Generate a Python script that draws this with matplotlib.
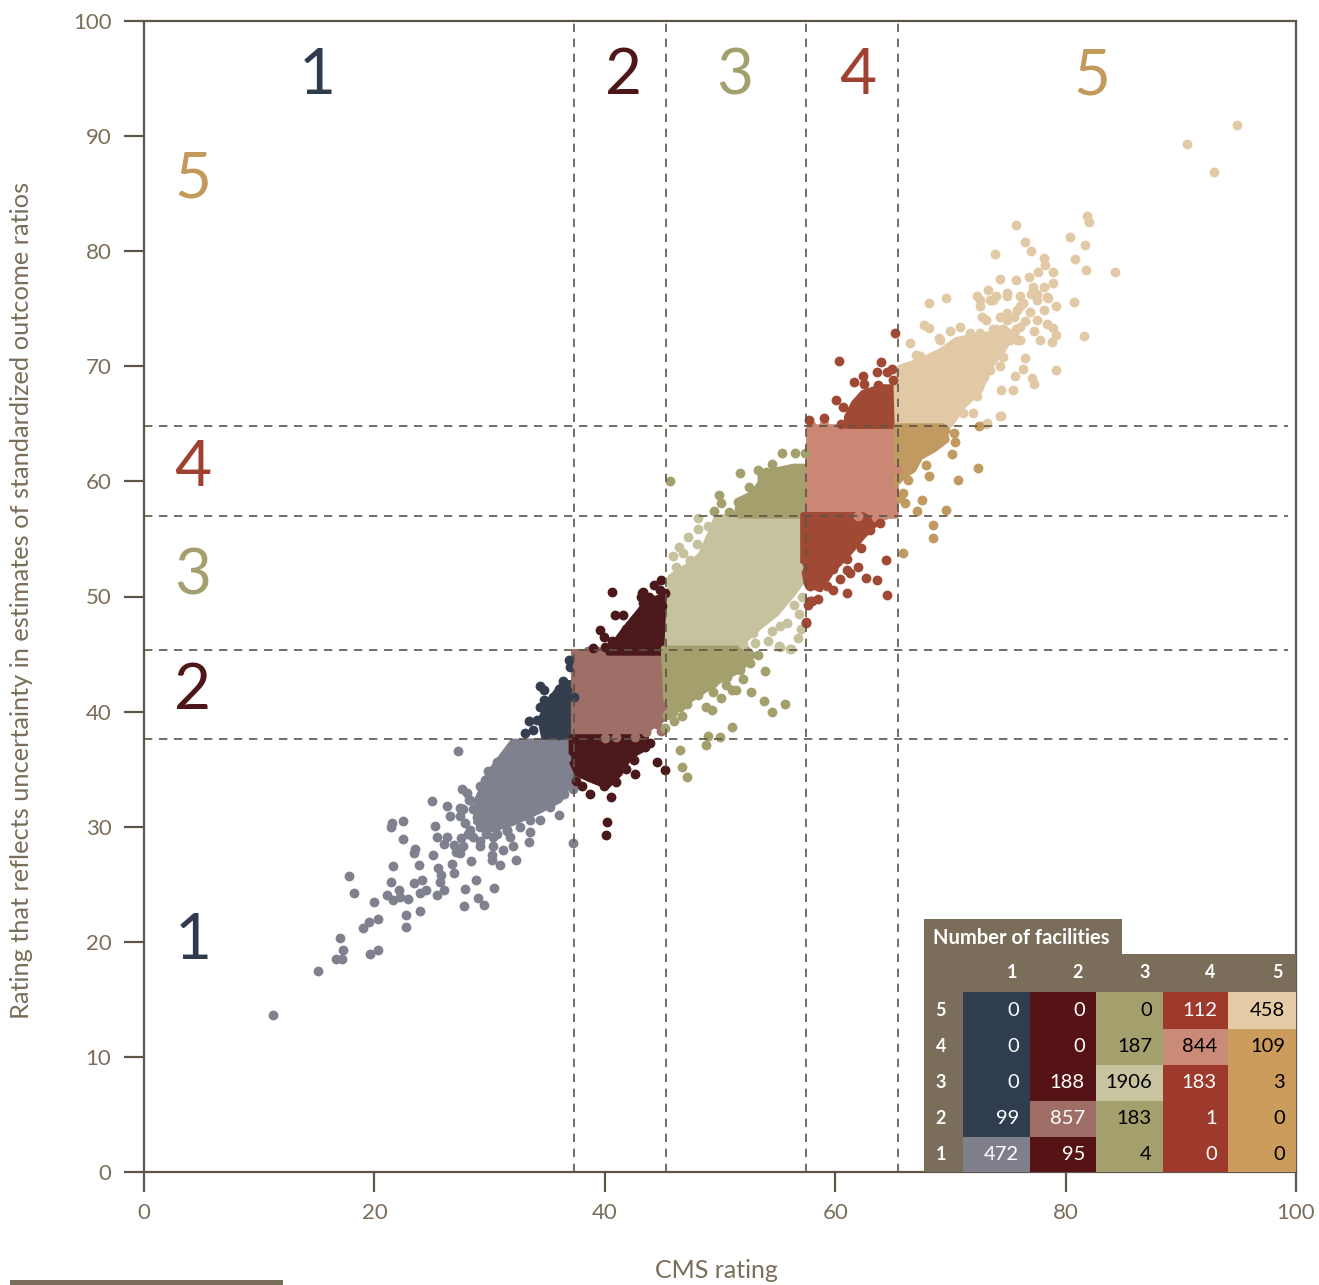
import matplotlib
matplotlib.use("Agg")
import matplotlib.pyplot as plt
from matplotlib.patches import Rectangle

plt.rcParams['font.family'] = ['Lato', 'DejaVu Sans']

# ---------------- data ----------------
x_cuts = [37.3, 45.3, 57.5, 65.45]
y_cuts = [37.6, 45.35, 57.0, 64.8]

x_ticks = [0, 20, 40, 60, 80, 100]
y_ticks = [0, 10, 20, 30, 40, 50, 60, 70, 80, 90, 100]

top_labels = ['1', '2', '3', '4', '5']
top_label_x = [15.0, 41.6, 51.3, 62.0, 82.3]
left_labels = ['5', '4', '3', '2', '1']
left_label_y = [86.2, 61.2, 51.7, 41.8, 20.1]

# scatter points (CMS rating, uncertainty rating)
gray_x = [11.2, 15.1, 16.7, 17.2, 17.3, 17.0, 19.6, 20.3, 19.0, 19.5, 20.3, 17.8, 18.2, 20.0, 22.7, 22.7, 24.0, 21.6,
          21.4, 21.1, 21.6, 22.2, 22.9, 22.1, 23.4, 24.1, 24.5, 24.0, 25.4, 26.0, 25.7, 25.8, 23.9, 23.4, 23.5, 22.5,
          21.4, 21.5, 22.5, 25.1, 25.5, 26.7, 26.9, 25.0, 26.3, 26.6, 25.3, 25.4, 26.3, 26.0, 26.9, 27.1, 27.7, 27.4,
          27.6, 27.3, 27.4, 28.2, 28.6, 27.9, 27.8, 28.8, 29.0, 29.5, 30.4, 28.4, 30.2, 30.9, 30.2, 29.2, 30.3, 31.2,
          32.0, 32.3, 33.4, 33.5, 37.2, 36.0, 34.4, 32.8, 28.3, 28.6, 29.2, 29.7, 30.6, 31.5, 31.8, 37.2, 36.5, 31.5,
          30.6, 29.9, 29.6, 29.2, 28.3, 27.7, 27.4, 35.2, 33.5, 32.6, 31.5, 30.3, 29.2, 36.6, 35.5, 33.0, 31.0,
          29.2, 30.3, 31.2, 32.1, 32.9, 33.8, 34.7, 35.5, 36.1, 27.9, 28.1, 28.9, 29.8, 30.8, 27.5, 28.0]
gray_y = [13.6, 17.5, 18.5, 18.5, 19.3, 20.3, 18.9, 19.3, 21.2, 21.7, 22.0, 25.7, 24.2, 23.5, 21.3, 22.3, 22.7, 26.6,
          25.2, 24.1, 23.6, 23.9, 23.7, 24.5, 25.1, 25.4, 24.5, 24.2, 24.1, 24.5, 25.2, 25.8, 26.7, 27.7, 28.1, 28.9,
          30.0, 30.3, 30.5, 27.5, 26.4, 26.8, 26.0, 32.2, 31.8, 30.9, 30.1, 29.1, 29.1, 28.5, 28.4, 27.8, 28.3, 27.7,
          33.3, 36.6, 31.6, 32.3, 31.5, 24.6, 23.1, 25.4, 23.8, 23.2, 24.7, 27.0, 27.1, 26.7, 27.5, 28.3, 28.3, 28.0,
          28.3, 27.1, 28.7, 29.5, 28.6, 31.0, 30.6, 31.0, 29.7, 29.1, 30.0, 29.4, 29.4, 29.7, 29.1, 33.3, 32.8, 36.2,
          35.6, 34.8, 34.1, 33.5, 32.3, 31.5, 30.9, 31.7, 30.6, 30.0, 29.6, 29.1, 28.8, 36.0, 33.4, 35.0, 32.5,
          32.6, 32.3, 32.9, 32.3, 31.7, 32.3, 32.9, 33.5, 34.1, 30.3, 29.4, 30.8, 30.2, 30.4, 29.0, 32.9]
gray_core_x = [32.0, 37.3, 37.3, 36.1, 34.4, 32.0, 30.0, 28.8, 28.9, 29.9]
gray_core_y = [37.4, 37.5, 34.3, 32.3, 31.4, 30.3, 29.7, 30.4, 32.3, 34.6]

navy_x = [37.0, 36.4, 34.4, 34.7, 34.7, 34.4, 33.4, 34.1, 33.1, 33.8, 35.5, 36.1, 36.7, 37.3, 35.0, 35.8, 36.5, 36.9,
          35.9, 36.0, 35.3]
navy_y = [43.9, 42.7, 42.2, 41.9, 41.0, 40.4, 39.2, 39.3, 38.1, 38.4, 41.3, 41.0, 41.9, 41.3, 40.0, 39.0, 38.5, 44.5,
          38.0, 42.0, 40.6]
navy_core_x = [34.7, 37.3, 37.3, 36.4, 35.2, 34.4]
navy_core_y = [37.8, 37.8, 42.5, 42.5, 41.0, 39.3]

rosy_x = [37.8, 44.9, 38.5, 37.6, 44.5, 43.6, 42.6, 40.0, 45.0, 38.2, 41.0, 39.3]
rosy_y = [44.8, 38.3, 45.3, 44.0, 38.9, 38.2, 37.8, 37.7, 40.5, 45.0, 37.8, 45.3]
rosy_core_x = [37.3, 45.3, 45.3, 44.1, 43.1, 37.3]
rosy_core_y = [45.2, 45.2, 39.5, 38.7, 37.9, 37.9]

dkred_x = [40.6, 44.9, 44.8, 45.2, 43.2, 43.8, 43.3, 43.9, 43.2, 40.9, 41.6, 39.6, 39.9, 40.6, 41.3, 42.5, 41.8, 43.3,
           43.1, 44.3, 45.0, 42.2, 40.0, 39.0, 44.0,
           38.7, 40.5, 40.2, 40.1, 44.5, 45.2, 42.6, 41.0, 43.5, 39.9, 37.5, 38.0, 42.5, 43.9, 41.8]
dkred_y = [50.4, 51.4, 50.6, 50.3, 50.3, 50.0, 49.4, 49.3, 48.8, 48.4, 48.4, 47.1, 46.5, 46.1, 46.2, 48.0, 47.2, 50.4,
           50.0, 51.0, 49.2, 46.5, 45.6, 45.5, 48.3,
           32.8, 32.6, 30.4, 29.3, 35.6, 34.9, 34.6, 33.9, 36.9, 33.5, 34.0, 33.5, 35.8, 37.3, 35.0]
dkred_core_hi_x = [40.3, 45.3, 45.3, 45.1, 43.8, 42.8, 41.9, 41.0]
dkred_core_hi_y = [45.1, 45.1, 49.6, 50.0, 49.7, 48.5, 47.4, 46.2]
dkred_core_lo_x = [37.1, 43.6, 43.3, 42.2, 41.3, 40.2, 38.7, 37.6, 37.1]
dkred_core_lo_y = [37.8, 37.8, 36.7, 36.1, 34.6, 33.5, 34.1, 34.6, 35.7]

beige_x = [48.1, 48.1, 49.0, 46.4, 45.9, 46.2, 55.2, 54.2, 55.2, 56.8, 56.1, 56.9, 56.4, 57.1, 52.6, 53.5, 51.7, 55.1,
           56.2, 55.8, 47.2, 46.8, 57.0, 53.0, 54.5, 48.0, 48.8, 49.4, 50.6, 51.2, 45.7, 47.4, 46.8, 56.1, 56.4, 56.8,
           54.6, 53.8, 52.9, 52.0]
beige_y = [56.8, 55.9, 56.1, 54.3, 53.5, 52.6, 47.4, 46.1, 45.6, 46.4, 45.4, 48.5, 49.3, 50.0, 47.4, 48.0, 46.2, 45.7,
           45.4, 47.7, 55.2, 53.8, 47.2, 46.0, 47.0, 54.6, 54.3, 53.7, 56.4, 56.6, 51.4, 53.2, 52.3, 50.9, 51.7, 52.6,
           49.1, 48.0, 46.8, 45.9]
beige_core_x = [49.7, 57.2, 57.2, 56.4, 54.9, 53.5, 52.3, 51.2, 45.4, 45.7, 47.1, 48.3, 49.1]
beige_core_y = [56.9, 56.9, 51.4, 50.3, 48.5, 47.4, 46.3, 45.4, 45.4, 51.7, 52.6, 53.6, 55.4]

olive_x = [55.4, 56.5, 57.4, 51.7, 49.9, 50.1, 51.6, 52.3, 54.0, 54.9, 55.8, 45.7, 50.8, 49.5, 52.5, 54.5, 53.3,
           45.4, 46.7, 47.1, 48.1, 48.8, 49.3, 49.4, 50.1, 51.0, 51.4, 52.7, 53.8, 54.5, 55.6, 51.0, 49.0, 52.6, 53.3,
           53.9, 52.0, 45.2, 46.0, 50.5, 50.0, 46.5, 46.7, 47.1, 48.8,
           51.7, 50.6, 49.4, 48.0, 47.1, 46.5, 45.9]
olive_y = [62.5, 62.5, 62.5, 60.7, 58.8, 58.1, 58.2, 58.5, 60.8, 60.7, 61.0, 60.0, 57.3, 57.4, 59.5, 61.5, 61.0,
           39.7, 39.6, 40.7, 41.4, 40.4, 40.1, 41.7, 41.2, 41.9, 41.9, 41.7, 40.9, 40.0, 40.7, 38.7, 37.9, 44.2, 44.9,
           43.5, 42.8, 38.6, 39.2, 42.3, 37.8, 36.7, 35.2, 34.3, 37.1,
           43.6, 43.0, 42.5, 41.9, 41.3, 40.4, 40.0]
olive_core_hi_x = [53.5, 56.4, 57.5, 57.5, 51.4, 51.7, 52.9, 53.5]
olive_core_hi_y = [60.7, 61.3, 61.3, 57.0, 57.0, 58.4, 59.0, 59.9]
olive_core_lo_x = [45.1, 52.3, 52.9, 51.7, 50.0, 48.3, 46.5, 45.4]
olive_core_lo_y = [45.5, 45.5, 44.9, 43.6, 42.7, 41.6, 40.4, 39.6]

salmon_x = [57.9, 59.0, 65.0, 64.2, 57.6, 57.6, 65.4, 63.5, 62.0]
salmon_y = [64.9, 64.9, 57.3, 57.1, 58.0, 60.5, 61.0, 56.9, 57.0]
salmon_core_x = [57.7, 65.3, 65.3, 57.7]
salmon_core_y = [57.0, 57.0, 64.7, 64.7]

red_x = [65.2, 60.3, 64.0, 63.6, 64.5, 62.4, 61.6, 63.7, 60.1, 60.7, 57.7, 59.0, 61.4, 60.5, 62.5, 65.0, 64.9,
         63.9, 62.2, 61.0, 61.0, 59.8, 61.3, 62.0, 62.7, 63.6, 64.5, 64.4, 61.0, 59.3, 59.8, 57.8, 58.0, 57.6, 57.5,
         57.8, 57.7, 57.5, 63.0, 58.5, 60.4]
red_y = [72.9, 70.5, 70.4, 69.5, 69.5, 69.2, 68.6, 68.4, 67.1, 66.5, 65.3, 65.5, 66.1, 65.0, 68.5, 68.8, 69.8,
         56.4, 54.2, 53.3, 52.3, 52.4, 52.0, 52.6, 51.6, 51.4, 50.1, 53.2, 50.3, 50.9, 50.6, 50.9, 49.6, 49.3, 47.7,
         49.6, 51.0, 47.8, 55.8, 49.8, 51.5]
red_core_hi_x = [61.0, 65.3, 65.3, 63.9, 62.4, 61.6, 61.0]
red_core_hi_y = [64.8, 64.8, 68.2, 68.2, 67.7, 66.8, 65.6]
red_core_lo_x = [57.2, 62.4, 63.6, 62.4, 61.0, 59.8, 58.7, 57.5, 57.2]
red_core_lo_y = [57.1, 57.1, 56.4, 55.2, 53.5, 52.3, 50.6, 51.1, 52.9]

tan_x = [94.9, 90.5, 92.9, 81.9, 82.0, 75.7, 80.4, 81.7, 76.5, 77.0, 73.9, 80.8, 81.8, 84.3, 78.1, 78.2, 74.3, 75.7,
         76.8, 77.6, 78.9, 78.9, 80.7, 81.6, 79.2, 79.2, 78.1, 78.5, 68.1, 69.6, 67.7, 68.1, 72.3, 72.6, 73.3, 74.9,
         73.7, 77.0, 77.5, 78.4, 76.0, 76.9, 77.5, 78.4, 78.9, 79.2, 78.8, 77.8, 77.3, 76.5, 76.0, 75.5, 75.8, 76.5,
         76.3, 75.6, 77.1, 77.3, 74.4, 75.4, 74.4, 73.2, 71.1, 72.0, 72.3, 72.9, 73.4, 74.0, 74.6, 74.3, 70.8, 70.0,
         71.7, 72.7, 73.1, 73.7, 75.5, 75.8, 74.9, 73.1, 74.3, 66.5, 67.0, 69.0, 71.0, 72.5,
         69.1, 69.7, 68.5, 67.4, 70.5, 71.4, 72.0, 72.6, 73.4, 74.0, 74.3, 74.9, 75.7, 76.0, 75.2, 74.6, 72.6, 73.4,
         74.0, 74.9, 76.0, 76.3, 77.2, 77.5, 78.1, 72.9, 73.1]
tan_y = [91.0, 89.3, 86.9, 83.1, 82.5, 82.3, 81.2, 80.5, 80.8, 80.0, 79.8, 79.3, 78.4, 78.2, 79.4, 78.8, 77.6, 77.5,
         77.8, 78.2, 78.2, 77.2, 75.6, 72.6, 69.7, 75.2, 74.9, 75.9, 75.5, 75.9, 73.6, 73.3, 76.1, 75.2, 76.6, 76.4,
         75.8, 76.3, 75.8, 76.0, 75.2, 74.7, 74.0, 73.7, 73.3, 72.7, 72.1, 72.3, 73.1, 73.9, 73.4, 72.9, 72.3, 70.7,
         69.8, 69.2, 69.0, 68.5, 67.9, 67.9, 65.7, 65.1, 65.9, 65.9, 67.4, 69.1, 69.7, 71.7, 70.8, 70.0, 73.4, 73.1,
         72.9, 74.3, 74.0, 73.2, 74.3, 74.9, 74.6, 65.0, 65.7, 72.0, 71.0, 72.5, 70.5, 71.0,
         72.3, 71.1, 70.9, 70.9, 71.7, 71.4, 72.0, 72.9, 72.3, 73.2, 74.3, 74.0, 73.2, 72.3, 72.3, 72.9, 75.8, 75.8,
         76.1, 76.1, 76.1, 75.5, 76.9, 76.3, 76.9, 70.9, 71.4]
tan_core_x = [65.4, 70.0, 71.1, 72.6, 73.4, 74.6, 75.4, 74.6, 73.4, 72.0, 70.5, 69.1, 67.4, 65.6, 65.3]
tan_core_y = [64.9, 64.9, 66.5, 67.9, 69.9, 71.4, 72.8, 73.4, 72.8, 72.6, 72.3, 71.3, 70.5, 69.9, 68.5]

gold_x = [70.3, 70.4, 70.1, 67.9, 68.1, 66.3, 65.9, 66.1, 67.5, 67.1, 68.5, 68.5, 69.6, 70.7, 72.4, 65.9, 72.5, 66.0,
          68.8, 69.5, 65.6]
gold_y = [64.2, 63.4, 62.4, 61.4, 60.5, 60.1, 59.0, 58.1, 58.4, 57.4, 56.2, 55.1, 57.5, 60.1, 61.2, 53.8, 64.8, 62.0,
          63.3, 64.5, 58.6]
gold_core_x = [65.3, 69.4, 69.7, 68.5, 67.4, 66.8, 65.9, 65.3]
gold_core_y = [64.8, 64.8, 63.6, 62.7, 62.1, 61.0, 60.4, 59.8]

# Number of facilities table (rows: uncertainty rating 5..1, cols: CMS rating 1..5)
table_rows = ['5', '4', '3', '2', '1']
table_cols = ['1', '2', '3', '4', '5']
table_counts = [[0, 0, 0, 112, 458],
                [0, 0, 187, 844, 109],
                [0, 188, 1906, 183, 3],
                [99, 857, 183, 1, 0],
                [472, 95, 4, 0, 0]]

# ---------------- style ----------------
C_NAVY = '#2f3d4e'
C_DKRED = '#561316'
C_OLIVE = '#a3a06d'
C_RED = '#9e3a2b'
C_TAN = '#e4caa5'
C_SALMON = '#c98a78'
C_GOLD = '#cb9c5c'
C_BEIGE = '#c8c49f'
C_ROSY = '#9e6e66'
C_GRAY = '#80808c'
C_HEAD = '#7a6e5a'
C_AXIS = '#5e5448'
C_TEXT = '#7a6e5a'

cell_colors = [[C_NAVY, C_DKRED, C_OLIVE, C_RED, C_TAN],
               [C_NAVY, C_DKRED, C_OLIVE, C_SALMON, C_GOLD],
               [C_NAVY, C_DKRED, C_BEIGE, C_RED, C_GOLD],
               [C_NAVY, C_ROSY, C_OLIVE, C_RED, C_GOLD],
               [C_GRAY, C_DKRED, C_OLIVE, C_RED, C_GOLD]]
dark_cells = {C_NAVY, C_DKRED, C_RED, C_ROSY, C_GRAY}

W, H = 1319, 1285
fig = plt.figure(figsize=(W / 100, H / 100), dpi=100)
ax = fig.add_axes([144 / W, 1 - 1172 / H, (1296 - 144) / W, (1172 - 21) / H])
ax.set_xlim(0, 100)
ax.set_ylim(0, 100)

S = 50
groups = [
    (gray_x, gray_y, [(gray_core_x, gray_core_y)], '#80818e'),
    (navy_x, navy_y, [(navy_core_x, navy_core_y)], '#343e4f'),
    (rosy_x, rosy_y, [(rosy_core_x, rosy_core_y)], '#9d6f67'),
    (dkred_x, dkred_y, [(dkred_core_hi_x, dkred_core_hi_y), (dkred_core_lo_x, dkred_core_lo_y)], '#4b191b'),
    (beige_x, beige_y, [(beige_core_x, beige_core_y)], '#c6c29d'),
    (olive_x, olive_y, [(olive_core_hi_x, olive_core_hi_y), (olive_core_lo_x, olive_core_lo_y)], '#a3a06d'),
    (salmon_x, salmon_y, [(salmon_core_x, salmon_core_y)], '#cb8774'),
    (red_x, red_y, [(red_core_hi_x, red_core_hi_y), (red_core_lo_x, red_core_lo_y)], '#a04a35'),
    (tan_x, tan_y, [(tan_core_x, tan_core_y)], '#e2c9a5'),
    (gold_x, gold_y, [(gold_core_x, gold_core_y)], '#c09a60'),
]
for gx, gy, cores, col in groups:
    for cx, cy in cores:
        ax.fill(cx, cy, color=col, lw=4, joinstyle='round', zorder=2)
    ax.scatter(gx, gy, s=S, color=col, lw=0, zorder=3)

# threshold dashed lines
for xc in x_cuts:
    ax.vlines(xc, 0, 100, colors=C_AXIS, lw=1.2, linestyles=(0, (5, 4)), zorder=4)
for yc in y_cuts:
    ax.hlines(yc, 0, 99.3, colors=C_AXIS, lw=1.2, linestyles=(0, (5, 4)), zorder=4)

# big category numbers
num_colors = ['#2f3b4c', '#4e1618', '#a3a06d', '#a04030', '#c49a5c']
for lab, xx, col in zip(top_labels, top_label_x, num_colors):
    ax.text(xx, 95.2, lab, color=col, fontsize=46, ha='center', va='center', zorder=5)
for lab, yy, col in zip(left_labels, left_label_y, num_colors[::-1]):
    ax.text(4.25, yy, lab, color=col, fontsize=46, ha='center', va='center', zorder=5)

# axes styling
for sp in ax.spines.values():
    sp.set_color(C_AXIS)
    sp.set_linewidth(1.6)
ax.set_xticks(x_ticks)
ax.set_yticks(y_ticks)
ax.set_xticklabels([str(t) for t in x_ticks])
ax.set_yticklabels([str(t) for t in y_ticks])
ax.tick_params(axis='both', direction='out', length=14.5, width=1.6, color=C_AXIS,
               labelcolor=C_TEXT, labelsize=16)
ax.tick_params(axis='y', pad=9)
ax.tick_params(axis='x', pad=8)

fig.text(22 / W, 1 - 600 / H, 'Rating that reflects uncertainty in estimates of standardized outcome ratios',
         rotation=90, ha='center', va='center', fontsize=18.3, color=C_TEXT)
fig.text(716 / W, 1 - 1270 / H, 'CMS rating', ha='center', va='center', fontsize=18, color=C_TEXT)
fig.add_artist(Rectangle((10 / W, 1 - 1285 / H), 273 / W, 5 / H, transform=fig.transFigure,
                         color=C_HEAD, lw=0))

# ---------------- table ----------------
tab = ax.inset_axes([67.7, 0, 32.3, 22.0], transform=ax.transData, zorder=6)
tab.set_xlim(0, 372)
tab.set_ylim(0, 253)
tab.axis('off')
tab.add_patch(Rectangle((0, 0), 372, 218, color=C_HEAD, lw=0))
tab.add_patch(Rectangle((0, 217), 198, 36, color=C_HEAD, lw=0))
tab.text(9, 234, 'Number of facilities', color='white', fontsize=14.5, fontweight='bold', ha='left', va='center')
col_left = [39, 106, 172, 239, 304]
col_right = [106, 172, 239, 304, 372]
row_bottom = [143, 107, 71, 35, 0]
row_top = [180, 143, 107, 71, 35]
for j, c in enumerate(table_cols):
    tab.text(col_right[j] - 13, 199, c, color='white', fontsize=13, fontweight='bold', ha='right', va='center')
for i, r in enumerate(table_rows):
    yc = (row_bottom[i] + row_top[i]) / 2
    tab.text(17, yc, r, color='white', fontsize=13, fontweight='bold', ha='center', va='center')
    for j in range(5):
        col = cell_colors[i][j]
        tab.add_patch(Rectangle((col_left[j], row_bottom[i]), col_right[j] - col_left[j],
                                row_top[i] - row_bottom[i], color=col, lw=0))
        tc = 'white' if col in dark_cells else 'black'
        tab.text(col_right[j] - 11, yc, str(table_counts[i][j]), color=tc, fontsize=14.5,
                 ha='right', va='center')

fig.savefig('out.png', dpi=100)
